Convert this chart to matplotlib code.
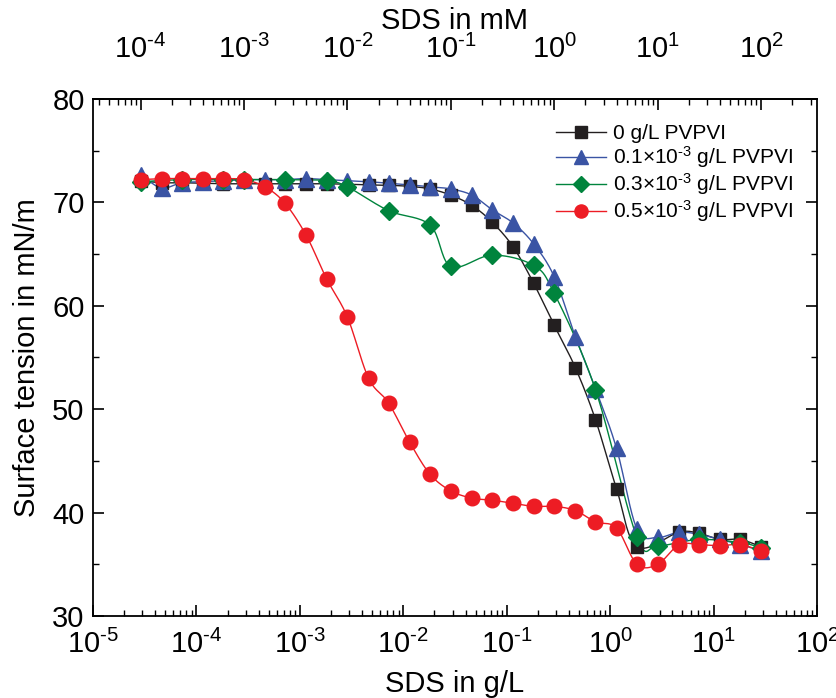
import numpy as np
import matplotlib
matplotlib.use("Agg")
import matplotlib.pyplot as plt
from matplotlib.ticker import LogLocator, NullFormatter, MultipleLocator, FuncFormatter

plt.rcParams['font.family'] = ['Liberation Sans', 'DejaVu Sans']
plt.rcParams['mathtext.fontset'] = 'custom'
plt.rcParams['mathtext.rm'] = 'Liberation Sans'
plt.rcParams['mathtext.it'] = 'Liberation Sans'
plt.rcParams['mathtext.default'] = 'regular'

MW = 0.28838  # g/L per mM of SDS

# concentrations in mM
x_all = [1.0e-4, 1.6e-4, 2.5e-4, 4.0e-4, 6.3e-4,
         1.0e-3, 1.6e-3, 2.5e-3, 4.0e-3, 6.3e-3,
         1.0e-2, 1.6e-2, 2.5e-2, 4.0e-2, 6.3e-2,
         0.10, 0.16, 0.25, 0.40, 0.63,
         1.0, 1.6, 2.5, 4.0, 6.3,
         10, 16, 25, 40, 63, 100]

x_black = [1.0e-4, 1.6e-4, 2.5e-4, 4.0e-4, 6.3e-4,
           1.6e-3, 2.5e-3, 4.0e-3, 6.3e-3,
           1.6e-2, 2.5e-2, 4.0e-2, 6.3e-2,
           0.10, 0.16, 0.25, 0.40, 0.63,
           1.0, 1.6, 2.5, 4.0, 6.3,
           16, 25, 40, 63, 100]
y_black = [72.1, 71.9, 71.9, 71.85, 71.8,
           71.8, 71.8, 71.8, 71.8,
           71.7, 71.65, 71.55, 71.3,
           70.7, 69.7, 68.1, 65.7, 62.2,
           58.1, 54.0, 49.0, 42.3, 36.7,
           38.1, 38.0, 37.4, 37.4, 36.7]

x_blue = x_all
y_blue = [72.6, 71.4, 71.9, 72.0, 72.1,
          72.2, 72.2, 72.2, 72.3, 72.2,
          72.1, 72.0, 71.85, 71.7, 71.5,
          71.3, 70.7, 69.3, 68.0, 66.0,
          62.8, 57.0, 52.0, 46.2, 38.4,
          37.6, 38.1, 37.9, 37.4, 36.9, 36.3]

x_green = [1.0e-4, 2.5e-4, 6.3e-4, 1.0e-3, 2.5e-3, 6.3e-3,
           1.0e-2, 2.5e-2, 6.3e-2, 0.10, 0.25, 0.63,
           1.0, 2.5, 6.3, 10, 25, 63, 100]
y_green = [72.0, 72.2, 72.2, 72.2, 72.2, 72.1,
           71.5, 69.2, 67.8, 63.8, 64.9, 63.9,
           61.2, 51.9, 37.6, 36.8, 37.4, 37.1, 36.6]

x_red = x_all
y_red = [72.2, 72.3, 72.3, 72.3, 72.3,
         72.2, 71.5, 69.9, 66.8, 62.6,
         58.9, 53.0, 50.6, 46.8, 43.7,
         42.1, 41.4, 41.2, 40.9, 40.6,
         40.6, 40.2, 39.1, 38.5, 35.0,
         35.0, 36.9, 36.9, 36.8, 36.9, 36.3]

labels = ['0 g/L PVPVI',
          r'0.1$\times$10$^{\text{-}3}$ g/L PVPVI',
          r'0.3$\times$10$^{\text{-}3}$ g/L PVPVI',
          r'0.5$\times$10$^{\text{-}3}$ g/L PVPVI']


def smooth(x, y, n=20):
    """Catmull-Rom spline through points in (log x, y)."""
    lx = np.log10(np.asarray(x, float))
    y = np.asarray(y, float)
    P = np.column_stack([lx, y])
    P = np.vstack([2 * P[0] - P[1], P, 2 * P[-1] - P[-2]])
    out = []
    t = np.linspace(0, 1, n, endpoint=False)[:, None]
    for i in range(1, len(P) - 2):
        p0, p1, p2, p3 = P[i - 1], P[i], P[i + 1], P[i + 2]
        seg = 0.5 * ((2 * p1) + (-p0 + p2) * t +
                     (2 * p0 - 5 * p1 + 4 * p2 - p3) * t ** 2 +
                     (-p0 + 3 * p1 - 3 * p2 + p3) * t ** 3)
        out.append(seg)
    out.append(P[-2][None, :])
    S = np.vstack(out)
    return 10 ** S[:, 0], S[:, 1]


def dec_fmt(v, pos):
    e = int(round(np.log10(v)))
    s = str(e).replace('-', r'\text{-}')
    return r'10$^{%s}$' % s


fig = plt.figure(figsize=(8.36, 6.98), dpi=100)
ax = fig.add_axes([0.1112, 0.1175, 0.8661, 0.7407])

series = [
    (x_black, y_black, 's', '#231f20', '#231f20', 9),
    (x_blue, y_blue, '^', '#3a54a4', '#3a54a4', 11),
    (x_green, y_green, 'D', '#00843d', '#00843d', 9.5),
    (x_red, y_red, 'o', '#ed1c24', '#ed1c24', 10.5),
]

for (xs, ys, mk, lc, mc, ms), lab in zip(series, labels):
    xg = [v * MW for v in xs]
    sx, sy = smooth(xg, ys)
    ax.plot(sx, sy, '-', color=lc, lw=1.0, zorder=2)
    ax.plot(xg, ys, linestyle='none', marker=mk, color=mc, ms=ms,
            mec=mc, zorder=3)
    ax.plot([], [], '-', color=lc, lw=1.0, marker=mk, ms=ms * 0.9,
            mfc=mc, mec=mc, label=lab)

ax.set_xscale('log')
ax.set_xlim(1e-5, 1e2)
ax.set_ylim(30, 80)
ax.yaxis.set_major_locator(MultipleLocator(10))
ax.yaxis.set_minor_locator(MultipleLocator(5))
ax.xaxis.set_major_locator(LogLocator(base=10, numticks=20))
ax.xaxis.set_major_formatter(FuncFormatter(dec_fmt))
ax.xaxis.set_minor_locator(LogLocator(base=10, subs=np.arange(2, 10), numticks=20))
ax.xaxis.set_minor_formatter(NullFormatter())

ax.tick_params(axis='both', which='major', direction='in', length=8, width=1.2,
               labelsize=21)
ax.tick_params(axis='x', which='major', pad=10)
ax.tick_params(axis='y', which='major', pad=6)
ax.tick_params(axis='both', which='minor', direction='in', length=4, width=1.0)
ax.tick_params(axis='y', which='both', right=True)
ax.tick_params(axis='x', which='both', top=False)

for sp in ax.spines.values():
    sp.set_linewidth(1.3)

ax.set_xlabel('SDS in g/L', fontsize=21, labelpad=8)
ax.set_ylabel('Surface tension in mN/m', fontsize=21, labelpad=8)

top = ax.secondary_xaxis('top', functions=(lambda v: v / MW, lambda v: v * MW))
top.set_xscale('log')
top.xaxis.set_major_locator(LogLocator(base=10, numticks=20))
top.xaxis.set_major_formatter(FuncFormatter(dec_fmt))
top.xaxis.set_minor_locator(LogLocator(base=10, subs=np.arange(2, 10), numticks=20))
top.xaxis.set_minor_formatter(NullFormatter())
top.tick_params(axis='x', which='major', direction='in', length=8, width=1.2,
                labelsize=21, pad=25)
top.tick_params(axis='x', which='minor', direction='in', length=4, width=1.0)
top.set_xlabel('SDS in mM', fontsize=21, labelpad=4)
top.spines['top'].set_linewidth(1.3)

leg = ax.legend(loc='upper right', bbox_to_anchor=(0.985, 0.975), frameon=False,
                fontsize=15, handlelength=2.4, handletextpad=0.35,
                labelspacing=0.05, borderaxespad=0.2)

fig.savefig('out.png', dpi=100)
